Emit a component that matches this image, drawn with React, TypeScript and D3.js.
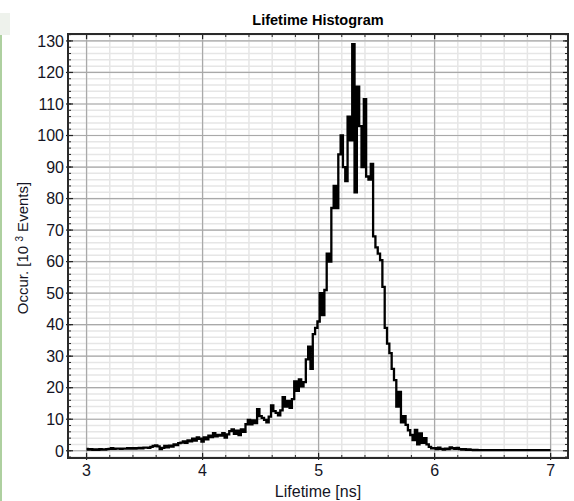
import React from "react";
import * as d3 from "d3";

// Histogram bins: start 3.00 ns, width 0.02 ns
const binStart = 3.0;
const binWidth = 0.02;
// Occurrences (10^3 events) per bin
const counts: number[] = [
  // 3.00 - 3.50
  0.6, 0.4, 0.5, 0.3, 0.4, 0.3, 0.5, 0.4, 0.4, 0.5, 0.6, 0.8, 0.6, 0.7, 0.7, 0.6, 0.7, 0.7, 0.8, 0.7, 0.8, 0.7, 0.8, 0.9, 0.8, 1.0,
  // 3.52 - 4.00
  1.0, 0.9, 1.2, 1.5, 1.7, 1.4, 0.5, 0.9, 1.5, 1.1, 1.6, 1.3, 2.0, 1.8, 2.4, 2.6, 3.0, 2.5, 3.3, 3.0, 3.8, 3.2, 4.2, 3.8, 2.9,
  // 4.02 - 4.50
  4.2, 3.6, 4.8, 4.3, 5.6, 4.6, 5.0, 4.8, 5.6, 4.2, 5.2, 6.2, 6.8, 5.4, 6.4, 5.0, 6.8, 6.0, 8.4, 9.8, 8.4, 9.6, 8.8, 13.2, 11.0,
  // 4.52 - 5.00
  10.4, 9.8, 9.0, 10.8, 14.4, 12.6, 12.0, 11.2, 12.8, 17.0, 14.0, 15.8, 13.6, 16.4, 22.0, 19.0, 22.6, 20.4, 21.8, 29.0, 33.0, 26.0, 37.0, 39.0, 41.0,
  // 5.02 - 5.60
  50, 43, 51, 62.5, 60, 77, 84, 77, 94, 100, 90, 85.5, 106, 98.5, 129, 82, 115.5, 103, 90, 111.5, 87, 86, 91, 68, 64.5, 62.5, 60.5, 52, 39, 34,
  // 5.62 - 6.00
  31, 26, 22.4, 14, 18.7, 9, 11, 8.2, 6.5, 5.0, 3.4, 6.6, 2.0, 5.5, 2.5, 4.0, 2.0, 1.2, 0.8, 0.8,
  // 6.02 - 6.30
  0.5, 1.0, 0.6, 0.4, 0.7, 0.5, 1.1, 0.8, 0.6, 0.9, 0.5, 0.4, 0.5, 0.3, 0.4,
  // 6.32 - 7.00
  0.3, 0.2, 0.3, 0.2, 0.2, 0.2, 0.2, 0.2, 0.2, 0.2, 0.2, 0.2, 0.2, 0.2, 0.2, 0.2, 0.2, 0.2, 0.2, 0.2,
  0.2, 0.2, 0.2, 0.2, 0.2, 0.2, 0.2, 0.2, 0.2, 0.2, 0.2, 0.2, 0.2, 0.2, 0.2,
];

const xTicks = [3, 4, 5, 6, 7];
const yTicks = [0, 10, 20, 30, 40, 50, 60, 70, 80, 90, 100, 110, 120, 130];
const title = "Lifetime Histogram";
const xLabel = "Lifetime [ns]";

const W = 574;
const H = 501;
const L = 68, T = 34, R = 568, B = 458;

export default function App() {
  const x = d3.scaleLinear().domain([2.84, 7.15]).range([L, R]);
  const y = d3.scaleLinear().domain([-2.3, 132.2]).range([B, T]);

  const xMinor = d3.range(2.8, 7.2001, 0.2).map((v) => +v.toFixed(2)).filter((v) => v >= 2.84 && v <= 7.15);
  const yMinor = d3.range(-2, 132.01, 2).filter((v) => v >= -2.3 && v <= 132.2);

  const line = d3
    .line<number>()
    .x((_, i) => x(binStart + i * binWidth))
    .y((d) => y(d))
    .curve(d3.curveStep);

  const font = "Liberation Sans, Arial, sans-serif";
  const textColor = "#141424";

  return (
    <svg width={W} height={H} style={{ position: "absolute", left: 0, top: 0, background: "#fff" }}>
      <rect x={0} y={13} width={10} height={22} fill="#eef2ec" />
      <rect x={0} y={35} width={2} height={H - 35} fill="#aed0a0" />
      <text x={(L + R) / 2} y={25} textAnchor="middle" fontFamily={font} fontWeight="bold" fontSize={14.5} fill="#000">
        {title}
      </text>
      <rect x={L} y={T} width={R - L} height={B - T} fill="#fff" />
      {/* minor grid */}
      {xMinor.map((v) => (
        <line key={"xm" + v} x1={x(v)} x2={x(v)} y1={T} y2={B} stroke="#e6e6e6" strokeWidth={1.5} />
      ))}
      {yMinor.map((v) => (
        <line key={"ym" + v} x1={L} x2={R} y1={y(v)} y2={y(v)} stroke="#e6e6e6" strokeWidth={1.5} />
      ))}
      {/* major grid */}
      {xTicks.map((v) => (
        <line key={"xg" + v} x1={x(v)} x2={x(v)} y1={T} y2={B} stroke="#a9a9a9" strokeWidth={1.2} />
      ))}
      {yTicks.map((v) => (
        <line key={"yg" + v} x1={L} x2={R} y1={y(v)} y2={y(v)} stroke="#a9a9a9" strokeWidth={1.2} />
      ))}
      {/* data */}
      <path d={line(counts) || ""} fill="none" stroke="#000" strokeWidth={2.3} strokeLinejoin="miter" />
      {/* minor ticks */}
      {xMinor.map((v) => (
        <g key={"xt" + v} stroke="#222" strokeWidth={1}>
          <line x1={x(v)} x2={x(v)} y1={B} y2={B - 3} />
          <line x1={x(v)} x2={x(v)} y1={T} y2={T + 3} />
        </g>
      ))}
      {yMinor.map((v) => (
        <g key={"yt" + v} stroke="#222" strokeWidth={1}>
          <line x1={L} x2={L + 3} y1={y(v)} y2={y(v)} />
          <line x1={R} x2={R - 3} y1={y(v)} y2={y(v)} />
        </g>
      ))}
      {xTicks.map((v) => (
        <g key={"xT" + v} stroke="#222" strokeWidth={1.2}>
          <line x1={x(v)} x2={x(v)} y1={B + 2} y2={B - 5} />
          <line x1={x(v)} x2={x(v)} y1={T} y2={T + 5} />
        </g>
      ))}
      {yTicks.map((v) => (
        <g key={"yT" + v} stroke="#222" strokeWidth={1.2}>
          <line x1={L - 2} x2={L + 5} y1={y(v)} y2={y(v)} />
          <line x1={R} x2={R - 5} y1={y(v)} y2={y(v)} />
        </g>
      ))}
      {/* frame */}
      <rect x={L} y={T} width={R - L} height={B - T} fill="none" stroke="#2a2a2a" strokeWidth={2} />
      {/* tick labels */}
      {yTicks.map((v) => (
        <text key={"yl" + v} x={L - 4} y={y(v)} dy="0.36em" textAnchor="end" fontFamily={font} fontSize={16} fill={textColor}>
          {v}
        </text>
      ))}
      {xTicks.map((v) => (
        <text key={"xl" + v} x={x(v)} y={475.5} textAnchor="middle" fontFamily={font} fontSize={16} fill={textColor}>
          {v}
        </text>
      ))}
      <text x={(L + R) / 2} y={497} textAnchor="middle" fontFamily={font} fontSize={16} fill={textColor}>
        {xLabel}
      </text>
      <text
        transform={`translate(28, ${248}) rotate(-90)`}
        textAnchor="middle"
        fontFamily={font}
        fontSize={15}
        fill={textColor}
      >
        <tspan>{"Occur. [10  "}</tspan>
        <tspan dy={-5} fontSize={10}>3</tspan>
        <tspan dy={5}>{"  Events]"}</tspan>
      </text>
    </svg>
  );
}
